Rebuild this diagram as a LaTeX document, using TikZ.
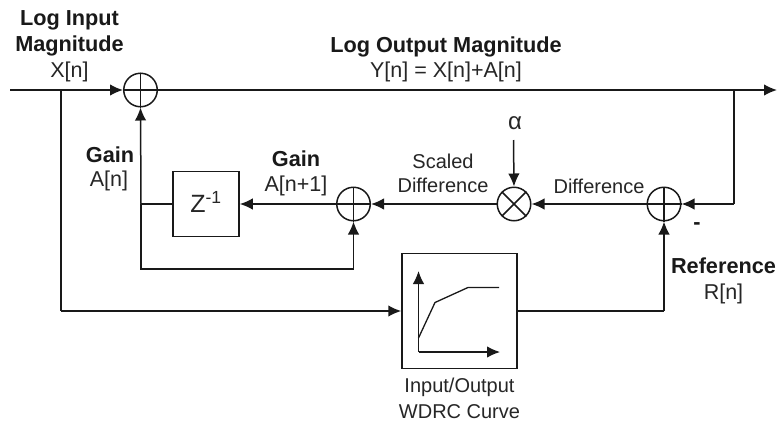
\documentclass[tikz,border=0pt]{standalone}
\usepackage{fontspec}
\setmainfont{Liberation Sans}
\usetikzlibrary{arrows.meta,calc}
\tikzset{
  wire/.style={line width=1.5pt,draw=black!90},
  arr/.style={wire,-{Latex[length=13pt,width=11.5pt]}},
  sumnode/.style={circle,draw=black!90,line width=1.5pt,minimum size=33.5pt,inner sep=0pt,fill=white},
  blockbox/.style={rectangle,draw=black!90,line width=1.5pt,inner sep=0pt,fill=white},
  lab/.style={align=center,font=\fontsize{21.5}{24.5}\selectfont,text=black!85,inner sep=0pt},
  slab/.style={align=center,font=\fontsize{20}{24.5}\selectfont,text=black!85,inner sep=0pt},
  blab/.style={align=center,font=\fontsize{21.7}{26.5}\selectfont\bfseries,text=black!90,inner sep=0pt},
}
\begin{document}
\begin{tikzpicture}[x=1pt,y=-1pt]
\useasboundingbox (0,0) rectangle (779,426);
\fill[white] (0,0) rectangle (779,426);
% nodes
\node[sumnode] (s1) at (140.5,90) {};
\node[sumnode] (s2) at (353.5,204) {};
\node[sumnode] (mu) at (514,204) {};
\node[sumnode] (s3) at (664,204) {};
\node[blockbox,minimum width=66pt,minimum height=65pt] (z) at (206,204) {};
\node[blockbox,minimum width=115pt,minimum height=115pt] (w) at (459.5,311) {};
\coordinate (in) at (10,90);
\coordinate (out) at (777,90);
\coordinate (jx) at (61,90);
\coordinate (jxb) at (61,311);
\coordinate (jy) at (734,90);
\coordinate (jyb) at (734,204);
\coordinate (ja) at (141,204);
\coordinate (jab) at (141,269);
\coordinate (js2) at (353.5,269);
\coordinate (jr) at (664,311);
\coordinate (al) at (513.5,140);
% sum crosses
\foreach \n in {s1,s2,s3}{
  \draw[wire] (\n.north) -- (\n.south);
  \draw[wire] (\n.west) -- (\n.east);
}
\draw[wire] (mu.north west) -- (mu.south east);
\draw[wire] (mu.north east) -- (mu.south west);
% connectors
\draw[arr] (in) -- (s1.west);
\draw[arr] (s1.east) -- (out);
\draw[wire] (jx) -- (jxb);
\draw[arr] (jxb) -- (w.west);
\draw[arr] (ja) -- (s1.south);
\draw[wire] (z.west) -- (ja);
\draw[wire] (ja) -- (jab) -- (js2);
\draw[arr] (js2) -- (s2.south);
\draw[arr] (s2.west) -- (z.east);
\draw[arr] (mu.west) -- (s2.east);
\draw[arr] (s3.west) -- (mu.east);
\draw[wire] (jy) -- (jyb);
\draw[arr] (jyb) -- (s3.east);
\draw[wire] (w.east) -- (jr);
\draw[arr] (jr) -- (s3.south);
\draw[arr] (al) -- (mu.north);
% curve icon
\coordinate (c0) at (418.5,352);
\draw[arr,line width=1.3pt] (c0) -- (418.5,271);
\draw[arr,line width=1.3pt] (c0) -- (500,352);
\draw[wire,line width=1.3pt] (418.5,338) -- (435,302.5) -- (468,287.5) -- (499,287.5);
% labels
\node[blab] (t1) at (69.5,33.5) {Log Input\\Magnitude};
\node[lab] (t2) at (69.5,72) {X[n]};
\node[blab] (t3) at (446,47) {Log Output Magnitude};
\node[lab] (t4) at (446,72) {Y[n] = X[n]+A[n]};
\node[blab] (t5) at (110,155) {Gain};
\node[lab] (t6) at (109,181) {A[n]};
\node[blab] (t7) at (296,158.5) {Gain};
\node[lab] (t8) at (296,186) {A[n+1]};
\node[lab,font=\fontsize{25}{28}\selectfont] (t9) at (206,202) {Z\textsuperscript{-1}};
\node[slab] (t10) at (443,173.5) {Scaled\\Difference};
\node[slab] (t11) at (599,186) {Difference};
\node[lab,font=\fontsize{24}{26}\selectfont] (t12) at (515,123.5) {α};
\node[blab] (t13) at (723.5,265.5) {Reference};
\node[lab] (t14) at (723.5,294) {R[n]};
\node[blab] (t15) at (697,226.5) {-};
\node[slab] (t16) at (459.5,387) {Input/Output};
\node[slab] (t17) at (459.5,412) {WDRC Curve};
\end{tikzpicture}
\end{document}
